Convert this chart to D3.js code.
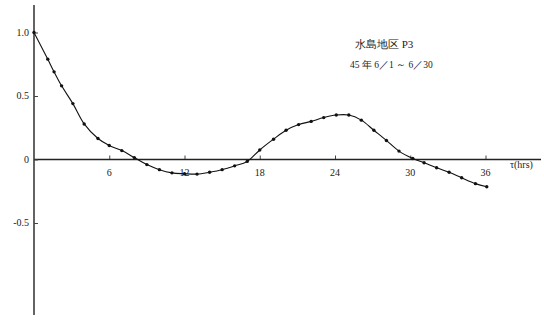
<!DOCTYPE html>
<html>
<head>
<meta charset="utf-8">
<script src="https://cdn.jsdelivr.net/npm/d3@7"></script>
<style>
  html, body { margin: 0; padding: 0; background: #fff; }
  svg { display: block; }
  text { font-family: "Liberation Serif", "DejaVu Serif", serif; fill: #222; }
</style>
</head>
<body>
<div id="chart"></div>
<script>
// lag (hours) and correlation coefficient
const lags = [0, 1.1, 1.6, 2.2, 3.1, 4, 5.1, 6, 7, 8, 9, 10, 11, 12, 13, 14, 15, 16, 17, 18,
              19.1, 20.1, 21.1, 22.1, 23.1, 24.1, 25.1, 26.1, 27.1, 28.1, 29.1, 30.2, 31.1, 32.1,
              33.1, 34.1, 35.2, 36.1];
const corr = [1.0, 0.79, 0.69, 0.58, 0.44, 0.28, 0.165, 0.11, 0.07, 0.015, -0.04, -0.08, -0.105,
              -0.112, -0.115, -0.10, -0.08, -0.05, -0.015, 0.075,
              0.16, 0.23, 0.275, 0.30, 0.33, 0.35, 0.35, 0.31, 0.23, 0.15, 0.066, 0.008, -0.026,
              -0.065, -0.10, -0.144, -0.19, -0.215];
const xTicks = [6, 12, 18, 24, 30, 36];
const yTicks = [1.0, 0.5, 0, -0.5];
const yTickLabels = ["1.0", "0.5", "0", "-0.5"];
const titleLines = ["水島地区 P3", "45 年 6／1 ～ 6／30"];
const xLabel = "τ(hrs)";

const data = lags.map((t, i) => ({ t, r: corr[i] }));

// ─── Dimensions ────────────────────────────────────────────
const W = 544, H = 320;
const svg = d3.select("#chart").append("svg")
    .attr("width", W).attr("height", H);

const x = d3.scaleLinear().domain([0, 36]).range([34, 485.5]);
const y = d3.scaleLinear().domain([0, 1]).range([159.5, 32.5]);

// ─── Axes ──────────────────────────────────────────────────
// vertical axis line
svg.append("line")
    .attr("x1", x(0)).attr("x2", x(0))
    .attr("y1", 5).attr("y2", 315)
    .attr("stroke", "#222").attr("stroke-width", 1.4);

// horizontal axis at zero
const xAxis = svg.append("g")
    .attr("transform", `translate(0,${y(0)})`)
    .call(d3.axisTop(x).tickValues(xTicks).tickSize(4).tickFormat(""));
xAxis.select(".domain").remove();
xAxis.selectAll(".tick line").attr("stroke", "#444");
xAxis.append("line")
    .attr("x1", x(0)).attr("x2", 541)
    .attr("stroke", "#222").attr("stroke-width", 1.4);

svg.selectAll(".xlab")
    .data(xTicks)
    .join("text")
    .attr("class", "xlab")
    .attr("x", d => x(d))
    .attr("y", y(0) + 16)
    .attr("text-anchor", "middle")
    .style("font-size", "10px")
    .text(d => d);

svg.append("text")
    .attr("x", 510)
    .attr("y", y(0) + 8)
    .style("font-size", "10px")
    .text(xLabel);

// y ticks
const yAxis = svg.append("g")
    .attr("transform", `translate(${x(0)},0)`)
    .call(d3.axisRight(y).tickValues(yTicks).tickSize(4).tickFormat(""));
yAxis.select(".domain").remove();
yAxis.selectAll(".tick line").attr("stroke", "#444");

svg.selectAll(".ylab")
    .data(yTicks)
    .join("text")
    .attr("class", "ylab")
    .attr("x", 29)
    .attr("y", d => y(d) + 3)
    .attr("text-anchor", "end")
    .style("font-size", "10px")
    .text((d, i) => yTickLabels[i]);

// ─── Curve & points ────────────────────────────────────────
const line = d3.line()
    .x(d => x(d.t))
    .y(d => y(d.r))
    .curve(d3.curveCatmullRom.alpha(0.5));

svg.append("path")
    .datum(data)
    .attr("d", line)
    .attr("fill", "none")
    .attr("stroke", "#111")
    .attr("stroke-width", 1.1);

svg.selectAll("circle")
    .data(data)
    .join("circle")
    .attr("cx", d => x(d.t))
    .attr("cy", d => y(d.r))
    .attr("r", 1.7)
    .attr("fill", "#111");

// ─── Annotation ────────────────────────────────────────────
svg.append("text")
    .attr("x", 355).attr("y", 48)
    .style("font-size", "11px")
    .text(titleLines[0]);
svg.append("text")
    .attr("x", 350).attr("y", 68)
    .style("font-size", "9.5px")
    .text(titleLines[1]);
</script>
</body>
</html>
